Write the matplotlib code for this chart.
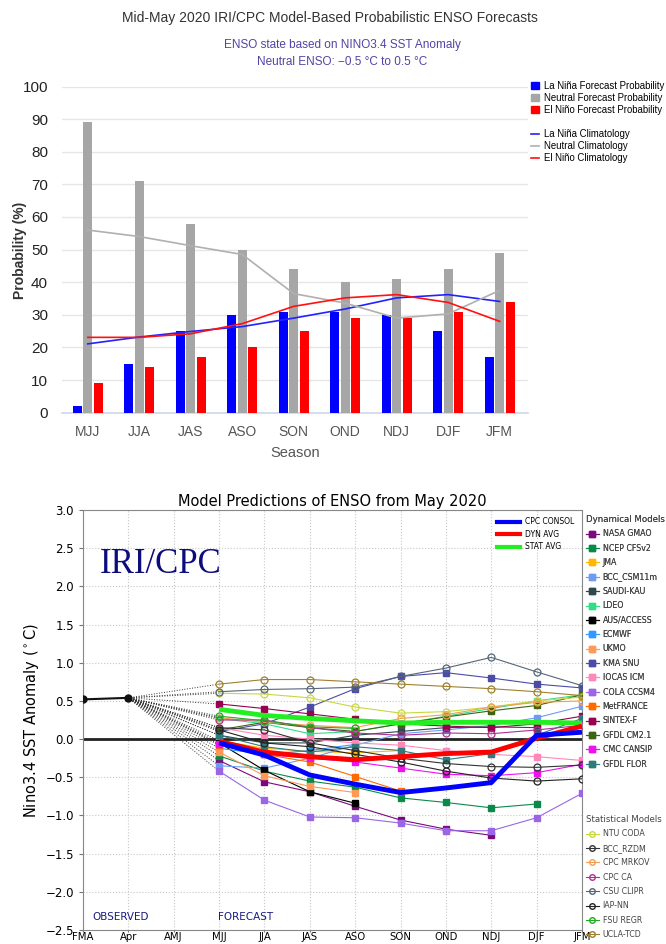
import numpy as np
import matplotlib
matplotlib.use("Agg")
import matplotlib.pyplot as plt
from matplotlib.patches import Patch
from matplotlib.lines import Line2D

# ---------------- top chart data ----------------
top_seasons = ["MJJ", "JJA", "JAS", "ASO", "SON", "OND", "NDJ", "DJF", "JFM"]
lanina_prob = [2, 15, 25, 30, 31, 31, 30, 25, 17]
neutral_prob = [89, 71, 58, 50, 44, 40, 41, 44, 49]
elnino_prob = [9, 14, 17, 20, 25, 29, 29, 31, 34]
lanina_clim = [21.1, 23.2, 24.9, 26.4, 29.0, 31.8, 35.2, 36.2, 34.1]
neutral_clim = [56.0, 54.0, 51.2, 48.5, 36.5, 33.6, 29.0, 30.3, 37.5]
elnino_clim = [23.1, 23.1, 24.2, 27.3, 32.6, 35.2, 36.2, 33.8, 28.0]

# ---------------- bottom chart data ----------------
all_seasons = ["FMA", "Apr", "AMJ", "MJJ", "JJA", "JAS", "ASO", "SON", "OND", "NDJ", "DJF", "JFM"]
observed = [0.52, 0.54]
nan = np.nan
dyn_names = ["NASA GMAO", "NCEP CFSv2", "JMA", "BCC_CSM11m", "SAUDI-KAU", "LDEO", "AUS/ACCESS",
             "ECMWF", "UKMO", "KMA SNU", "IOCAS ICM", "COLA CCSM4", "MetFRANCE", "SINTEX-F",
             "GFDL CM2.1", "CMC CANSIP", "GFDL FLOR"]
dyn_colors = ["#7a0a7a", "#0a8a4a", "#ffb700", "#6f9cf0", "#2f4a4f", "#33dd88", "#000000",
              "#3399ff", "#ff9955", "#4b4ba8", "#ff88bb", "#9a66e6", "#ff6a00", "#99004f",
              "#3f6314", "#ee11ee", "#2f7a7a"]
gmao = [-0.28, -0.56, -0.69, -0.88, -1.06, -1.18, -1.26, nan, nan]
cfsv2 = [-0.22, -0.42, -0.55, -0.63, -0.77, -0.83, -0.90, -0.85, nan]
jma = [-0.02, -0.12, -0.16, -0.18, -0.15, nan, nan, nan, nan]
bcc_csm = [-0.35, -0.38, -0.25, -0.08, 0.07, 0.12, 0.18, 0.28, 0.43]
saudi = [0.05, -0.05, -0.05, 0.05, 0.10, 0.15, 0.16, 0.15, nan]
ldeo = [0.27, 0.20, 0.07, 0.10, 0.20, 0.30, 0.40, 0.50, 0.58]
access = [-0.05, -0.41, -0.69, -0.84, nan, nan, nan, nan, nan]
ecmwf = [-0.12, -0.20, -0.15, -0.07, nan, nan, nan, nan, nan]
ukmo = [-0.17, -0.48, -0.62, -0.70, nan, nan, nan, nan, nan]
kma = [0.10, 0.20, 0.42, 0.66, 0.82, 0.87, 0.80, 0.72, 0.67]
iocas = [0.15, 0.05, 0.00, -0.05, -0.08, -0.15, -0.20, -0.23, -0.28]
cola = [-0.42, -0.80, -1.02, -1.03, -1.10, -1.20, -1.20, -1.03, -0.71]
metfr = [-0.08, -0.20, -0.30, -0.49, -0.68, nan, nan, nan, nan]
sintex = [0.46, 0.40, 0.33, 0.26, 0.20, 0.17, 0.15, 0.20, 0.30]
gfdl21 = [0.12, 0.22, 0.15, 0.10, 0.20, 0.29, 0.37, 0.44, 0.58]
cansip = [-0.07, -0.20, -0.25, -0.30, -0.38, -0.46, -0.48, -0.44, -0.33]
flor = [0.05, -0.10, -0.17, -0.10, -0.15, -0.27, -0.19, 0.05, 0.27]
dyn_values = [gmao, cfsv2, jma, bcc_csm, saudi, ldeo, access, ecmwf, ukmo, kma, iocas,
              cola, metfr, sintex, gfdl21, cansip, flor]

stat_names = ["NTU CODA", "BCC_RZDM", "CPC MRKOV", "CPC CA", "CSU CLIPR", "IAP-NN", "FSU REGR", "UCLA-TCD"]
stat_colors = ["#c8d840", "#333333", "#f0a050", "#b03090", "#556677", "#222222", "#22aa22", "#a08030"]
ntu = [0.60, 0.59, 0.54, 0.42, 0.34, 0.36, 0.42, 0.50, 0.55]
rzdm = [0.15, 0.12, -0.05, -0.15, -0.25, -0.32, -0.36, -0.37, -0.34]
mrkov = [0.28, 0.22, 0.18, 0.15, 0.27, 0.32, 0.42, 0.48, 0.50]
cpcca = [0.25, 0.25, 0.15, 0.08, 0.05, 0.08, 0.07, 0.12, 0.18]
clipr = [0.62, 0.65, 0.66, 0.68, 0.82, 0.93, 1.07, 0.88, 0.70]
iapnn = [0.12, -0.05, -0.10, -0.20, -0.30, -0.42, -0.51, -0.55, -0.52]
fsu = [0.30, 0.24, 0.16, 0.14, nan, nan, nan, nan, nan]
ucla = [0.72, 0.78, 0.78, 0.75, 0.72, 0.69, 0.66, 0.62, 0.57]
stat_values = [ntu, rzdm, mrkov, cpcca, clipr, iapnn, fsu, ucla]

cpc_consol = [-0.05, -0.21, -0.47, -0.59, -0.70, -0.64, -0.57, 0.05, 0.09]
dyn_avg = [-0.03, -0.17, -0.23, -0.27, -0.23, -0.19, -0.17, 0.01, 0.17]
stat_avg = [0.39, 0.31, 0.27, 0.24, 0.21, 0.22, 0.22, 0.22, 0.21]

# ---------------- figure ----------------
W, H = 666, 944
fig = plt.figure(figsize=(W / 100, H / 100), dpi=100)
narrow = ["Liberation Sans Narrow", "Liberation Sans", "DejaVu Sans"]

def fx(px):
    return px / W

def fy(py):
    return 1 - py / H

# ===== top chart =====
ax1 = fig.add_axes([fx(62), fy(412.7), fx(528 - 62), (412.7 - 86.5) / H])
xi = np.arange(len(top_seasons))
bw = 0.175
off = 0.205
ax1.bar(xi - off, lanina_prob, bw, color="#0000ff", zorder=3)
ax1.bar(xi, neutral_prob, bw, color="#a6a6a6", zorder=3)
ax1.bar(xi + off, elnino_prob, bw, color="#ff0000", zorder=3)
ax1.plot(xi, lanina_clim, color="#2222ff", lw=1.2, zorder=4)
ax1.plot(xi, neutral_clim, color="#b0b0b0", lw=1.2, zorder=4)
ax1.plot(xi, elnino_clim, color="#ff1111", lw=1.2, zorder=4)
ax1.set_xlim(-0.5, 8.55)
ax1.set_ylim(0, 100)
ax1.set_yticks(np.arange(0, 101, 10))
ax1.set_xticks(xi)
ax1.set_xticklabels(top_seasons, family=narrow, fontsize=10, color="#555555")
for t in ax1.get_yticklabels():
    t.set_family(narrow)
    t.set_fontsize(11)
    t.set_color("#222222")
ax1.tick_params(axis="both", length=0)
ax1.tick_params(axis="x", pad=9)
ax1.tick_params(axis="y", pad=10)
ax1.grid(axis="y", color="#e6e6e6", lw=1, zorder=0)
for s in ["top", "right", "left"]:
    ax1.spines[s].set_visible(False)
ax1.spines["bottom"].set_color("#ccd6eb")
ax1.spines["bottom"].set_linewidth(1.2)
ax1.set_xlabel("Season", family=narrow, fontsize=10.5, color="#555555", labelpad=5)
fig.text(fx(20), fy(250), "Probability (%)", rotation=90, ha="center", va="center",
         family=narrow, fontsize=10, fontweight="bold", color="#333333")
fig.text(fx(330), fy(18), "Mid-May 2020 IRI/CPC Model-Based Probabilistic ENSO Forecasts",
         ha="center", va="center", family=narrow, fontsize=10, color="#333333")
fig.text(fx(342), fy(45), "ENSO state based on NINO3.4 SST Anomaly",
         ha="center", va="center", family=narrow, fontsize=8.5, color="#5144a5")
fig.text(fx(342), fy(62), "Neutral ENSO: \u22120.5 \u00b0C to 0.5 \u00b0C",
         ha="center", va="center", family=narrow, fontsize=8.5, color="#5144a5")

leg_handles = [Patch(color="#0000ff", label="La Ni\u00f1a Forecast Probability"),
               Patch(color="#a6a6a6", label="Neutral Forecast Probability"),
               Patch(color="#ff0000", label="El Ni\u00f1o Forecast Probability"),
               Line2D([], [], color="none", label=" "),
               Line2D([], [], color="#2222ff", lw=1.2, label="La Ni\u00f1a Climatology"),
               Line2D([], [], color="#b0b0b0", lw=1.2, label="Neutral Climatology"),
               Line2D([], [], color="#ff1111", lw=1.2, label="El Ni\u00f1o Climatology")]
fig.legend(handles=leg_handles, loc="upper left", bbox_to_anchor=(fx(527), fy(77)),
           frameon=False, prop={"family": narrow, "size": 6.9}, handlelength=0.8,
           handleheight=0.8, handletextpad=0.6, labelspacing=0.22, borderaxespad=0)

# ===== bottom chart =====
ax2 = fig.add_axes([fx(83), fy(930), fx(582 - 83), (930 - 510) / H])
xall = np.arange(len(all_seasons))
xf = xall[3:]
ax2.set_xlim(0, 11)
ax2.set_ylim(-2.5, 3.0)
ax2.set_xticks(xall)
ax2.set_xticklabels(all_seasons, fontsize=7.3)
ax2.set_yticks(np.arange(-2.5, 3.01, 0.5))
ax2.tick_params(axis="y", labelsize=8.5, length=3, color="#777777")
ax2.tick_params(axis="x", length=1.5, pad=0.3, color="#777777")
ax2.grid(True, color="#c8c8c8", ls=":", lw=0.8, zorder=0)
for s in ax2.spines.values():
    s.set_color("#888888")
ax2.axhline(0, color="#222222", lw=2.0, zorder=2)
ax2.set_title("Model Predictions of ENSO from May 2020", fontsize=10.5, pad=3)
ax2.set_ylabel("Nino3.4 SST Anomaly ($^\\circ$C)", fontsize=10.5, labelpad=3)

# dotted connectors from last observation
for vals in dyn_values + stat_values:
    ax2.plot([xall[1], xf[0]], [observed[1], vals[0]], color="#333333", ls=":", lw=0.7, zorder=3)

dyn_handles = []
for name, col, vals in zip(dyn_names, dyn_colors, dyn_values):
    v = np.array(vals, dtype=float)
    ax2.plot(xf, v, color=col, lw=0.8, marker="s", ms=5, mec=col, zorder=4)
    dyn_handles.append(Line2D([], [], color=col, lw=0.8, marker="s", ms=4, label=name))
stat_handles = []
for name, col, vals in zip(stat_names, stat_colors, stat_values):
    v = np.array(vals, dtype=float)
    ax2.plot(xf, v, color=col, lw=0.8, marker="o", ms=5, mfc="none", mec=col, mew=0.9, zorder=4)
    stat_handles.append(Line2D([], [], color=col, lw=0.8, marker="o", ms=4, mfc="none", label=name))

ax2.plot(xf, stat_avg, color="#22ee22", lw=3.5, zorder=6, solid_capstyle="butt")
ax2.plot(xf, dyn_avg, color="#ff0000", lw=3.5, zorder=7, solid_capstyle="butt")
ax2.plot(xf, cpc_consol, color="#0000ff", lw=3.5, zorder=7, solid_capstyle="butt")
ax2.plot(xall[:2], observed, color="#111111", lw=1.5, marker="o", ms=5, zorder=5)

avg_handles = [Line2D([], [], color="#0000ff", lw=3, label="CPC CONSOL"),
               Line2D([], [], color="#ff0000", lw=3, label="DYN AVG"),
               Line2D([], [], color="#22ee22", lw=3, label="STAT AVG")]
ax2.legend(handles=avg_handles, loc="upper right", bbox_to_anchor=(0.995, 0.995), frameon=False,
           fontsize=5.5, handlelength=3.0, labelspacing=0.45, handletextpad=0.6, borderaxespad=0.3)

leg_kw = dict(loc="upper left", frameon=False, alignment="left", handlelength=1.6,
              labelspacing=0.68, handletextpad=0.5, borderaxespad=0, borderpad=0,
              prop={"size": 5.7}, title_fontsize=6.2, labelcolor="#444444")
leg_dyn = fig.legend(handles=dyn_handles, bbox_to_anchor=(fx(586), fy(515)),
                     title="Dynamical Models", **leg_kw)
leg_dyn.get_title().set_color("#444444")
fig.add_artist(leg_dyn)
leg_stat = fig.legend(handles=stat_handles, bbox_to_anchor=(fx(586), fy(815)),
                      title="Statistical Models", **leg_kw)
leg_stat.get_title().set_color("#444444")

ax2.text(0.034, 0.87, "IRI/CPC", transform=ax2.transAxes, family="Liberation Serif",
         fontsize=25, color="#0c0c7c", va="center", ha="left")
ax2.text(0.018, 0.03, "OBSERVED", transform=ax2.transAxes, fontsize=7.5, color="#1a1a80",
         va="center", ha="left")
ax2.text(0.27, 0.03, "FORECAST", transform=ax2.transAxes, fontsize=7.5, color="#1a1a80",
         va="center", ha="left")

fig.savefig("out.png", dpi=100)
